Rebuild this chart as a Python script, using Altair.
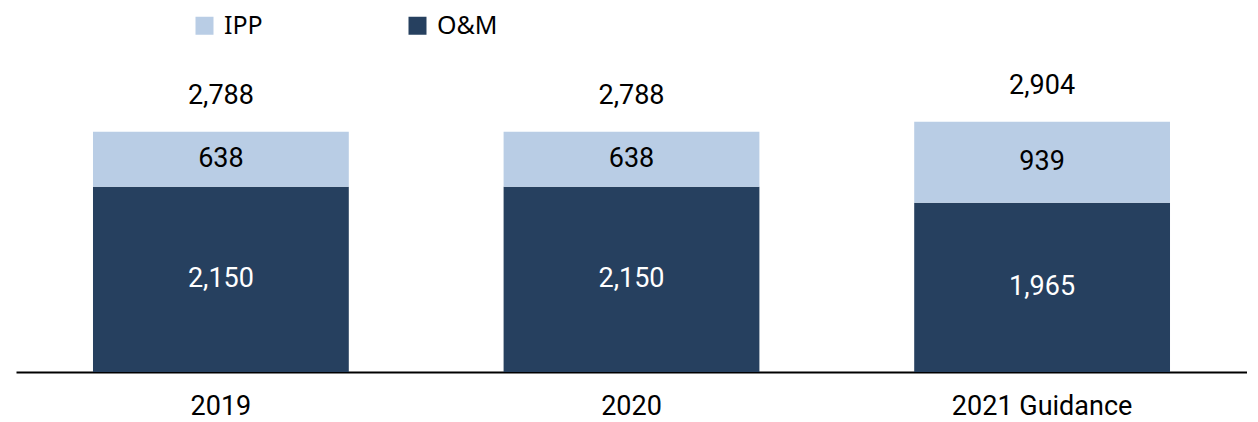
import altair as alt
import pandas as pd

categories = ["2019", "2020", "2021 Guidance"]
series = ["IPP", "O&M"]
om_values = [2150, 2150, 1965]
ipp_values = [638, 638, 939]
totals = [2788, 2788, 2904]

colors = ["#b9cde5", "#26405f"]
FONT = "Roboto, sans-serif"

rows = []
for c, om, ipp in zip(categories, om_values, ipp_values):
    rows.append({"cat": c, "series": "O&M", "lo": 0, "hi": om, "mid": om / 2,
                 "label": f"{om:,}", "tcolor": "white"})
    rows.append({"cat": c, "series": "IPP", "lo": om, "hi": om + ipp, "mid": om + ipp / 2,
                 "label": f"{ipp:,}", "tcolor": "black"})
seg = pd.DataFrame(rows)
tot = pd.DataFrame({"cat": categories, "total": totals,
                    "label": [f"{t:,}" for t in totals]})

xenc = alt.X("cat:N", sort=categories,
             scale=alt.Scale(paddingInner=0.377, paddingOuter=0.1875),
             axis=alt.Axis(title=None, labelAngle=0, ticks=False, domainColor="black",
                           domainWidth=2, labelFont=FONT, labelFontSize=27,
                           labelColor="black", labelPadding=21, labelLimit=0))
yscale = alt.Scale(domain=[0, 3504], nice=False)

bars = alt.Chart(seg).mark_bar().encode(
    x=xenc,
    y=alt.Y("lo:Q", scale=yscale, axis=None),
    y2="hi:Q",
    color=alt.Color("series:N", scale=alt.Scale(domain=series, range=colors),
                    legend=alt.Legend(title=None, orient="none", direction="horizontal",
                                      legendX=176, legendY=-57, symbolType="square",
                                      symbolSize=324, symbolStrokeWidth=0,
                                      labelFont="Noto Sans", labelFontSize=25,
                                      labelColor="black", labelOffset=7, labelLimit=0,
                                      columnPadding=142, padding=0)),
)

seg_text = alt.Chart(seg).mark_text(font=FONT, fontSize=27, baseline="middle").encode(
    x=alt.X("cat:N", sort=categories),
    y=alt.Y("mid:Q", scale=yscale),
    text="label:N",
    color=alt.Color("tcolor:N", scale=None),
)

tot_text = alt.Chart(tot).mark_text(font=FONT, fontSize=27, baseline="alphabetic",
                                    dy=-28, color="black").encode(
    x=alt.X("cat:N", sort=categories),
    y=alt.Y("total:Q", scale=yscale),
    text="label:N",
)

chart = alt.layer(bars, seg_text, tot_text).properties(
    width=1231, height=302,
    autosize=alt.AutoSizeParams(type="none"),
    padding={"left": 8, "top": 62, "right": 0, "bottom": 50},
).configure_view(stroke=None)

chart.save("out.html", embed_options={"renderer": "svg", "actions": False})
